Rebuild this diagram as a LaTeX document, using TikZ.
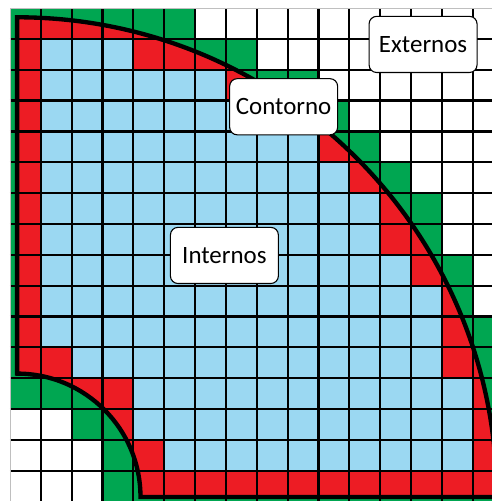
\documentclass[tikz,border=0pt]{standalone}
\usepackage{fontspec}
\setmainfont{Carlito}
\usepackage{tikz}

\definecolor{interno}{RGB}{155,216,242}
\definecolor{contorno}{RGB}{237,28,36}
\definecolor{externo}{RGB}{0,166,81}

% quarter ring: outer radius 15.55, inner radius 4
\newcommand{\regiao}{(0.23,-11.85) -- (0.23,-0.3) arc[start angle=90,end angle=0,radius=15.55]
  -- (4.23,-15.85) arc[start angle=0,end angle=90,radius=4] -- cycle}

\begin{document}
\begin{tikzpicture}[
    celula/.style={line width=2pt},
    rotulo/.style={draw,fill=white,line width=1pt,rounded corners=7pt,
      minimum width=3.5cm,minimum height=1.82cm,inner sep=0pt,
      font=\fontsize{23}{28}\selectfont}]
  \useasboundingbox (-0.324,0.26) rectangle (15.624,-15.98);

  % internal cells
  \foreach \r/\a/\b in {1/1/3,2/1/6,3/1/8,4/1/9,5/1/10,6/1/11,7/1/11,8/1/12,
      9/1/13,10/1/13,11/2/13,12/4/14,13/4/14,14/5/14}
    \fill[interno] (\a,-\r) rectangle ({\b+1},{-\r-1});

  % boundary cells: green outside the region, red inside
  \foreach \ca/\ra/\cb/\rb in {0/0/5/0,0/1/0/12,4/1/7/1,7/2/9/2,9/3/10/3,
      10/4/11/4,11/5/12/5,12/6/13/7,13/8/14/8,14/9/14/11,15/10/15/15,
      1/11/1/12,2/12/3/13,3/14/4/14,3/15/14/15}
    \fill[externo] (\ca,-\ra) rectangle ({\cb+1},{-\rb-1});
  \begin{scope}
    \clip \regiao;
    \foreach \ca/\ra/\cb/\rb in {0/0/5/0,0/1/0/12,4/1/7/1,7/2/9/2,9/3/10/3,
        10/4/11/4,11/5/12/5,12/6/13/7,13/8/14/8,14/9/14/11,15/10/15/15,
        1/11/1/12,2/12/3/13,3/14/4/14,3/15/14/15}
      \fill[contorno] (\ca,-\ra) rectangle ({\cb+1},{-\rb-1});
  \end{scope}

  % grid
  \foreach \i in {1,...,16} {
    \draw[celula] (\i,0) -- (\i,-16);
    \draw[celula] (0,-\i) -- (16,-\i);
  }
  \draw[gray!50,line width=0.6pt] (0,-16) -- (0,0) -- (16,0);

  \draw[line width=4pt] \regiao;

  \node[rotulo] (ext) at (13.39,-1.18) {Externos};
  \node[rotulo] (cont) at (8.87,-3.2) {Contorno};
  \node[rotulo] (int) at (6.95,-8.02) {Internos};
\end{tikzpicture}
\end{document}
